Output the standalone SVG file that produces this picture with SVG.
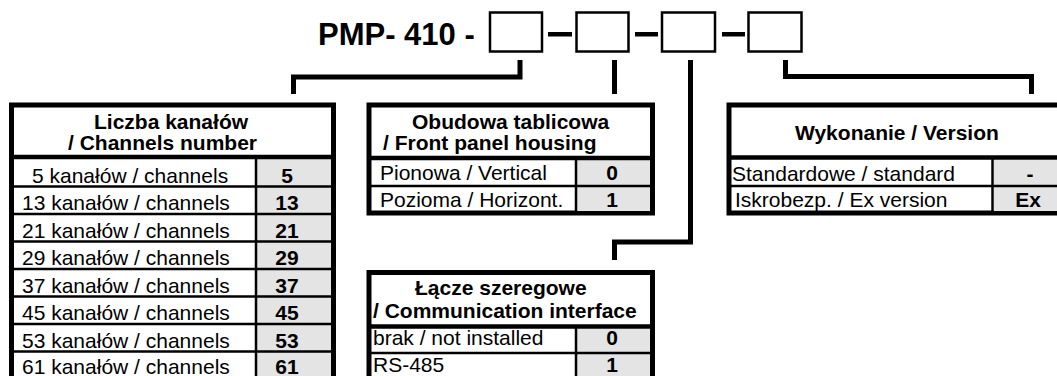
<svg xmlns="http://www.w3.org/2000/svg" width="1057" height="376" viewBox="0 0 1057 376">
<style>
.t{font-family:"Liberation Sans",Arial,sans-serif;font-size:21px;fill:#000}
.b{font-weight:bold}
.c{text-anchor:middle}
.outer{fill:#fff;stroke:#000;stroke-width:5}
.hsep{stroke:#000;stroke-width:4.5}
.row{stroke:#000;stroke-width:2.5}
.val{fill:#e4e4e4}
.conn{fill:none;stroke:#000;stroke-width:5;stroke-linejoin:miter;stroke-linecap:butt}
.tb{fill:#fff;stroke:#000;stroke-width:2.5}
</style>
<rect width="1057" height="376" fill="#fff"/>
<g id="title">
<text class="t b" x="318" y="45" style="font-size:31px">PMP- 410 -</text>
<rect class="tb" x="490" y="12.5" width="52" height="39"/>
<rect class="tb" x="576.5" y="12.5" width="52" height="39"/>
<rect class="tb" x="662" y="12.5" width="53" height="39"/>
<rect class="tb" x="748.5" y="12.5" width="53" height="39"/>
<rect x="548" y="32" width="24" height="4.5" fill="#000"/>
<rect x="635" y="32" width="23" height="4.5" fill="#000"/>
<rect x="722" y="32" width="23" height="4.5" fill="#000"/>
</g>
<g id="connectors">
<polyline class="conn" points="520,60 520,77 293.5,77 293.5,94"/>
<polyline class="conn" points="614.5,60 614.5,94"/>
<polyline class="conn" points="690.5,60 690.5,242 614.5,242 614.5,260"/>
<polyline class="conn" points="785.5,60 785.5,76.5 1031.5,76.5 1031.5,94"/>
</g>
<g id="channels">
<rect class="outer" x="11.5" y="105" width="322" height="280"/>
<rect class="val" x="257" y="159" width="74" height="220"/>
<line class="hsep" x1="11.5" y1="157" x2="333.5" y2="157"/>
<line class="row" x1="256" y1="157" x2="256" y2="380"/>
<line class="row" x1="11.5" y1="186.5" x2="333.5" y2="186.5"/>
<line class="row" x1="11.5" y1="214" x2="333.5" y2="214"/>
<line class="row" x1="11.5" y1="241.5" x2="333.5" y2="241.5"/>
<line class="row" x1="11.5" y1="269" x2="333.5" y2="269"/>
<line class="row" x1="11.5" y1="296.5" x2="333.5" y2="296.5"/>
<line class="row" x1="11.5" y1="324" x2="333.5" y2="324"/>
<line class="row" x1="11.5" y1="351.5" x2="333.5" y2="351.5"/>
<text class="t b" x="94" y="128.5">Liczba kanałów</text>
<text class="t b" x="68" y="149.5">/ Channels number</text>
<text class="t" x="32" y="182.5">5 kanałów / channels</text>
<text class="t" x="22" y="210">13 kanałów / channels</text>
<text class="t" x="22" y="237.5">21 kanałów / channels</text>
<text class="t" x="22" y="265">29 kanałów / channels</text>
<text class="t" x="22" y="292.5">37 kanałów / channels</text>
<text class="t" x="22" y="320">45 kanałów / channels</text>
<text class="t" x="22" y="347.5">53 kanałów / channels</text>
<text class="t" x="22" y="373.5">61 kanałów / channels</text>
<text class="t b c" x="287" y="182.5">5</text>
<text class="t b c" x="287" y="210">13</text>
<text class="t b c" x="287" y="237.5">21</text>
<text class="t b c" x="287" y="265">29</text>
<text class="t b c" x="287" y="292.5">37</text>
<text class="t b c" x="287" y="320">45</text>
<text class="t b c" x="287" y="347.5">53</text>
<text class="t b c" x="287" y="373.5">61</text>
</g>
<g id="housing">
<rect class="outer" x="369" y="105" width="283.5" height="108"/>
<rect class="val" x="577" y="160" width="73" height="51"/>
<line class="hsep" x1="369" y1="158" x2="652.5" y2="158"/>
<line class="row" x1="576" y1="158" x2="576" y2="213"/>
<line class="row" x1="369" y1="186" x2="652.5" y2="186"/>
<text class="t b" x="412" y="128.5">Obudowa tablicowa</text>
<text class="t b" x="383" y="149.5">/ Front panel housing</text>
<text class="t" x="380" y="180">Pionowa / Vertical</text>
<text class="t" x="380" y="207">Pozioma / Horizont.</text>
<text class="t b c" x="612" y="180">0</text>
<text class="t b c" x="612" y="207">1</text>
</g>
<g id="interface">
<rect class="outer" x="369" y="272.5" width="283.5" height="112"/>
<rect class="val" x="577" y="329" width="73" height="50"/>
<line class="hsep" x1="369" y1="326.5" x2="652.5" y2="326.5"/>
<line class="row" x1="576" y1="326.5" x2="576" y2="380"/>
<line class="row" x1="369" y1="353" x2="652.5" y2="353"/>
<text class="t b" x="415" y="295">Łącze szeregowe</text>
<text class="t b" x="373" y="317.5">/ Communication interface</text>
<text class="t" x="373" y="345">brak / not installed</text>
<text class="t" x="373" y="372">RS-485</text>
<text class="t b c" x="612" y="345">0</text>
<text class="t b c" x="612" y="372">1</text>
</g>
<g id="version">
<rect class="outer" x="729" y="105" width="331" height="108"/>
<rect class="val" x="994" y="160" width="70" height="51"/>
<line class="hsep" x1="729" y1="157.5" x2="1060" y2="157.5"/>
<line class="row" x1="992.5" y1="157.5" x2="992.5" y2="213"/>
<line class="row" x1="729" y1="186" x2="1060" y2="186"/>
<text class="t b" x="795" y="139.5">Wykonanie / Version</text>
<text class="t" x="732" y="180.5">Standardowe / standard</text>
<text class="t" x="735" y="207">Iskrobezp. / Ex version</text>
<text class="t b c" x="1030" y="180.5">-</text>
<text class="t b c" x="1028" y="207">Ex</text>
</g>
</svg>
